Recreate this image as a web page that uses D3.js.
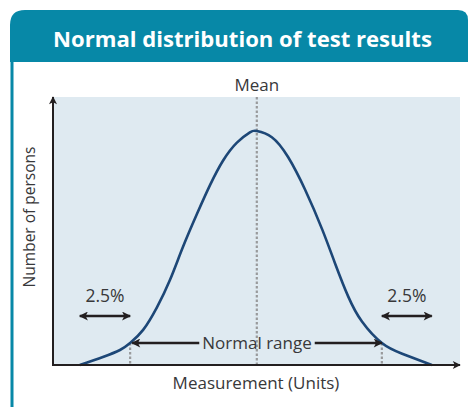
<!DOCTYPE html>
<html>
<head>
<meta charset="utf-8">
<script src="https://cdn.jsdelivr.net/npm/d3@7"></script>
<style>
  html, body { margin: 0; padding: 0; background: #ffffff; }
  svg { display: block; font-family: "Open Sans", "Noto Sans", sans-serif; }
</style>
</head>
<body>
<svg id="chart" width="468" height="407"></svg>
<script>
// Bell curve of test results: measurement (arbitrary units) vs relative number of persons
const measurement = [6.6, 12.3, 16.5, 19.0, 22.2, 25.6, 28.8, 32.0, 35.5, 38.7, 41.9, 45.3, 48.5, 50.2,
                     53.9, 57.9, 62.1, 66.3, 69.5, 72.7, 76.1, 81.0, 86.0, 93.3];
const persons     = [0, 3.0, 5.6, 8.2, 13.1, 21.5, 31.7, 44.0, 56.5, 67.2, 76.3, 83.0, 86.8, 87.3,
                     85.0, 77.6, 65.4, 50.6, 37.8, 25.6, 16.2, 8.2, 4.2, 0];

// Reference markers
const meanValue = 50.2;
const lowerLimit = 19.0;   // 2.5 % below
const upperLimit = 81.0;   // 2.5 % above
const tailStart = 6.6;
const tailEnd = 93.3;

const labels = {
  title: "Normal distribution of test results",
  mean: "Mean",
  yAxis: "Number of persons",
  xAxis: "Measurement (Units)",
  tail: "2.5%",
  range: "Normal range"
};

const teal = "#0788a7";
const ink = "#231f20";
const textColor = "#38383a";
const svg = d3.select("#chart");

// Header panel with rounded top corners and a side rule
const hx0 = 10, hx1 = 468, hy0 = 10, hy1 = 62, rL = 15, rR = 10;
svg.append("path")
  .attr("d", `M${hx0},${hy1} L${hx0},${hy0 + rL} Q${hx0},${hy0} ${hx0 + rL},${hy0}
              L${hx1 - rR},${hy0} Q${hx1},${hy0} ${hx1},${hy0 + rR} L${hx1},${hy1} Z`)
  .attr("fill", teal);
svg.append("rect").attr("x", 10.5).attr("y", hy1).attr("width", 3).attr("height", 407 - hy1).attr("fill", teal);

svg.append("text")
  .attr("x", 242.5).attr("y", 46.5)
  .attr("text-anchor", "middle")
  .attr("fill", "#ffffff")
  .attr("font-weight", 700)
  .attr("font-size", 22.1)
  .text(labels.title);

// Plot area
const plot = { left: 53, right: 459, top: 97, bottom: 365 };
const x = d3.scaleLinear().domain([0, 100]).range([plot.left, plot.right]);
const y = d3.scaleLinear().domain([0, 100]).range([plot.bottom, plot.top]);

svg.append("rect")
  .attr("x", plot.left).attr("y", plot.top)
  .attr("width", plot.right - plot.left + 1).attr("height", plot.bottom - plot.top)
  .attr("fill", "#dfeaf1");

const defs = svg.append("defs");
defs.append("marker")
  .attr("id", "head").attr("viewBox", "0 0 10 10")
  .attr("refX", 9).attr("refY", 5)
  .attr("markerWidth", 11).attr("markerHeight", 9)
  .attr("markerUnits", "userSpaceOnUse")
  .attr("orient", "auto-start-reverse")
  .append("path").attr("d", "M0,0 L10,5 L0,10 L2.5,5 Z").attr("fill", ink);
defs.append("marker")
  .attr("id", "axisHead").attr("viewBox", "0 0 10 10")
  .attr("refX", 9).attr("refY", 5)
  .attr("markerWidth", 9).attr("markerHeight", 8)
  .attr("markerUnits", "userSpaceOnUse")
  .attr("orient", "auto")
  .append("path").attr("d", "M0,0 L10,5 L0,10 L2.5,5 Z").attr("fill", ink);

// Dotted guide lines
const dotted = (xv, yTop) => svg.append("line")
  .attr("x1", x(xv)).attr("x2", x(xv))
  .attr("y1", yTop).attr("y2", plot.bottom)
  .attr("stroke", "#999a9c").attr("stroke-width", 2.2)
  .attr("stroke-dasharray", "2.5,2");

dotted(meanValue, plot.top);
const curveAt = v => persons[measurement.indexOf(v)];
dotted(lowerLimit, y(curveAt(lowerLimit)));
dotted(upperLimit, y(curveAt(upperLimit)));

// Distribution curve
const pts = measurement.map((m, i) => [m, persons[i]]);
svg.append("path")
  .datum(pts)
  .attr("d", d3.line().x(d => x(d[0])).y(d => y(d[1])).curve(d3.curveNatural))
  .attr("fill", "none")
  .attr("stroke", "#1d4777")
  .attr("stroke-width", 2.6);

// Axes with arrowheads
svg.append("line")
  .attr("x1", plot.left).attr("y1", plot.bottom + 1)
  .attr("x2", plot.left).attr("y2", plot.top)
  .attr("stroke", ink).attr("stroke-width", 2)
  .attr("marker-end", "url(#axisHead)");
svg.append("line")
  .attr("x1", plot.left - 1).attr("y1", plot.bottom)
  .attr("x2", plot.right + 1).attr("y2", plot.bottom)
  .attr("stroke", ink).attr("stroke-width", 2)
  .attr("marker-end", "url(#axisHead)");

// Labels
const label = (tx, ty, txt, size = 17) => svg.append("text")
  .attr("x", tx).attr("y", ty)
  .attr("text-anchor", "middle")
  .attr("fill", textColor)
  .attr("font-size", size)
  .text(txt);

label(x(meanValue), 91, labels.mean);
label(256, 389, labels.xAxis);
svg.append("text")
  .attr("transform", "translate(34.5,217) rotate(-90)")
  .attr("text-anchor", "middle")
  .attr("fill", textColor)
  .attr("font-size", 15.5)
  .text(labels.yAxis);

// 2.5 % tails
const tailY = 316;
const dbl = (a, b) => svg.append("line")
  .attr("x1", x(a)).attr("x2", x(b)).attr("y1", tailY).attr("y2", tailY)
  .attr("stroke", ink).attr("stroke-width", 2.4)
  .attr("marker-start", "url(#head)").attr("marker-end", "url(#head)");
dbl(tailStart, lowerLimit);
dbl(upperLimit, tailEnd);
label((x(tailStart) + x(lowerLimit)) / 2, 302, labels.tail, 17.5);
label((x(upperLimit) + x(tailEnd)) / 2, 302, labels.tail, 17.5);

// Normal range annotation
const rangeY = 343;
const rangeText = label(257, 349, labels.range);
const tw = rangeText.node().getComputedTextLength();
const gap = 3;
svg.append("line")
  .attr("x1", 257 - tw / 2 - gap).attr("x2", x(lowerLimit) + 2)
  .attr("y1", rangeY).attr("y2", rangeY)
  .attr("stroke", ink).attr("stroke-width", 2.4)
  .attr("marker-end", "url(#head)");
svg.append("line")
  .attr("x1", 257 + tw / 2 + gap).attr("x2", x(upperLimit))
  .attr("y1", rangeY).attr("y2", rangeY)
  .attr("stroke", ink).attr("stroke-width", 2.4)
  .attr("marker-end", "url(#head)");
</script>
</body>
</html>
